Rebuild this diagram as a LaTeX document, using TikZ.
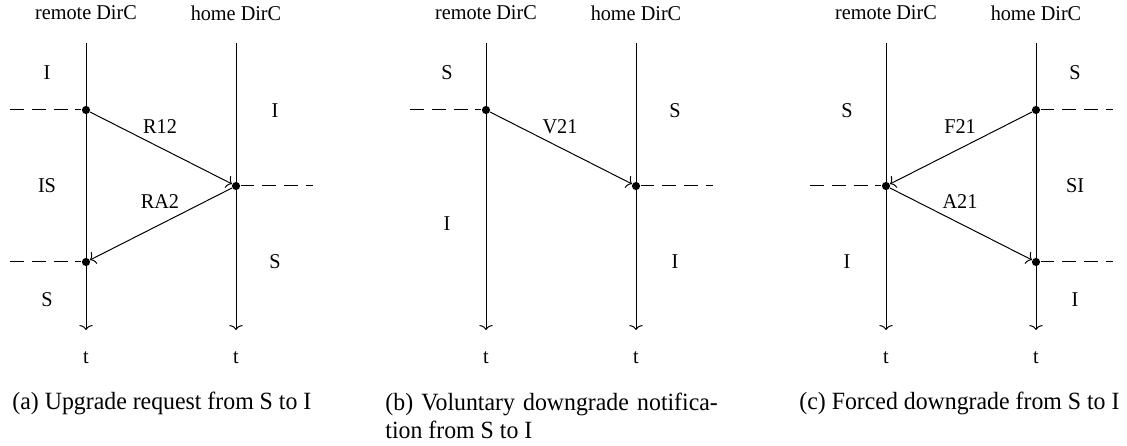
\documentclass[tikz,border=0pt]{standalone}
\usepackage{fontspec}
\setmainfont[FakeStretch=0.96]{Liberation Serif}
\usetikzlibrary{arrows.meta}
\begin{document}
\begin{tikzpicture}[x=0.4032pt,y=-0.4032pt,
  lbl/.style={font=\fontsize{8.5}{10}\selectfont, inner sep=0pt},
  captxt/.style={font=\fontsize{10}{11.3}\selectfont, inner sep=0pt},
  dot/.style={circle, fill, inner sep=0pt, minimum size=3.3pt},
  life/.style={-{To[length=2pt,width=5.4pt]}},
  msg/.style={-{To[length=2pt,width=5.4pt]}},
  brk/.style={dash pattern=on 5.6pt off 3.2pt}]
\useasboundingbox (0,0) rectangle (1127,446);

% ---------- (a)
\node[lbl] (ra) at (86,13) {remote DirC};
\node[lbl] (ha) at (236,13) {home DirC};
\coordinate (ra0) at (86,43); \coordinate (ra1) at (86,330);
\coordinate (ha0) at (236,43); \coordinate (ha1) at (236,330);
\draw[life] (ra0) -- (ra1);
\draw[life] (ha0) -- (ha1);
\node[lbl] (tra) at (86,358) {t};
\node[lbl] (tha) at (236,358) {t};
\node[dot] (a1) at (86,110) {};
\node[dot] (a2) at (236,186) {};
\node[dot] (a3) at (86,262) {};
\coordinate (a1d) at (10,110); \coordinate (a2d) at (313,186); \coordinate (a3d) at (10,262);
\draw[brk] (a1d) -- (a1);
\draw[brk] (a2) -- (a2d);
\draw[brk] (a3d) -- (a3);
\draw[msg] (a1) -- (a2);
\draw[msg] (a2) -- (a3);
\node[lbl] (lR12) at (160,127) {R12};
\node[lbl] (lRA2) at (160,202) {RA2};
\node[lbl] (sa1) at (47,73) {I};
\node[lbl] (sa2) at (47,186) {IS};
\node[lbl] (sa3) at (47,300) {S};
\node[lbl] (sa4) at (275,111) {I};
\node[lbl] (sa5) at (275,262) {S};
\node[captxt, anchor=west] (capa) at (12,403) {(a) Upgrade request from S to I};

% ---------- (b)
\node[lbl] (rb) at (486,13) {remote DirC};
\node[lbl] (hb) at (636,13) {home DirC};
\coordinate (rb0) at (486,43); \coordinate (rb1) at (486,330);
\coordinate (hb0) at (636,43); \coordinate (hb1) at (636,330);
\draw[life] (rb0) -- (rb1);
\draw[life] (hb0) -- (hb1);
\node[lbl] (trb) at (486,358) {t};
\node[lbl] (thb) at (636,358) {t};
\node[dot] (b1) at (486,110) {};
\node[dot] (b2) at (636,186) {};
\coordinate (b1d) at (410,110); \coordinate (b2d) at (713,186);
\draw[brk] (b1d) -- (b1);
\draw[brk] (b2) -- (b2d);
\draw[msg] (b1) -- (b2);
\node[lbl] (lV21) at (560,127) {V21};
\node[lbl] (sb1) at (447,73) {S};
\node[lbl] (sb2) at (447,224) {I};
\node[lbl] (sb3) at (675,111) {S};
\node[lbl] (sb4) at (675,262) {I};
\node[captxt, anchor=west, text width=134pt, align=justify] (capb) at (385,416)
  {(b) Voluntary downgrade notifica-\linebreak tion from S to I};

% ---------- (c)
\node[lbl] (rc) at (886,13) {remote DirC};
\node[lbl] (hc) at (1036,13) {home DirC};
\coordinate (rc0) at (886,43); \coordinate (rc1) at (886,330);
\coordinate (hc0) at (1036,43); \coordinate (hc1) at (1036,330);
\draw[life] (rc0) -- (rc1);
\draw[life] (hc0) -- (hc1);
\node[lbl] (trc) at (886,358) {t};
\node[lbl] (thc) at (1036,358) {t};
\node[dot] (c1) at (1036,110) {};
\node[dot] (c2) at (886,186) {};
\node[dot] (c3) at (1036,262) {};
\coordinate (c1d) at (1113,110); \coordinate (c2d) at (810,186); \coordinate (c3d) at (1113,262);
\draw[brk] (c1) -- (c1d);
\draw[brk] (c2d) -- (c2);
\draw[brk] (c3) -- (c3d);
\draw[msg] (c1) -- (c2);
\draw[msg] (c2) -- (c3);
\node[lbl] (lF21) at (960,127) {F21};
\node[lbl] (lA21) at (960,202) {A21};
\node[lbl] (sc1) at (847,111) {S};
\node[lbl] (sc2) at (847,262) {I};
\node[lbl] (sc3) at (1075,73) {S};
\node[lbl] (sc4) at (1075,186) {SI};
\node[lbl] (sc5) at (1075,300) {I};
\node[captxt, anchor=east] (capc) at (1120,403) {(c) Forced downgrade from S to I};
\end{tikzpicture}
\end{document}
